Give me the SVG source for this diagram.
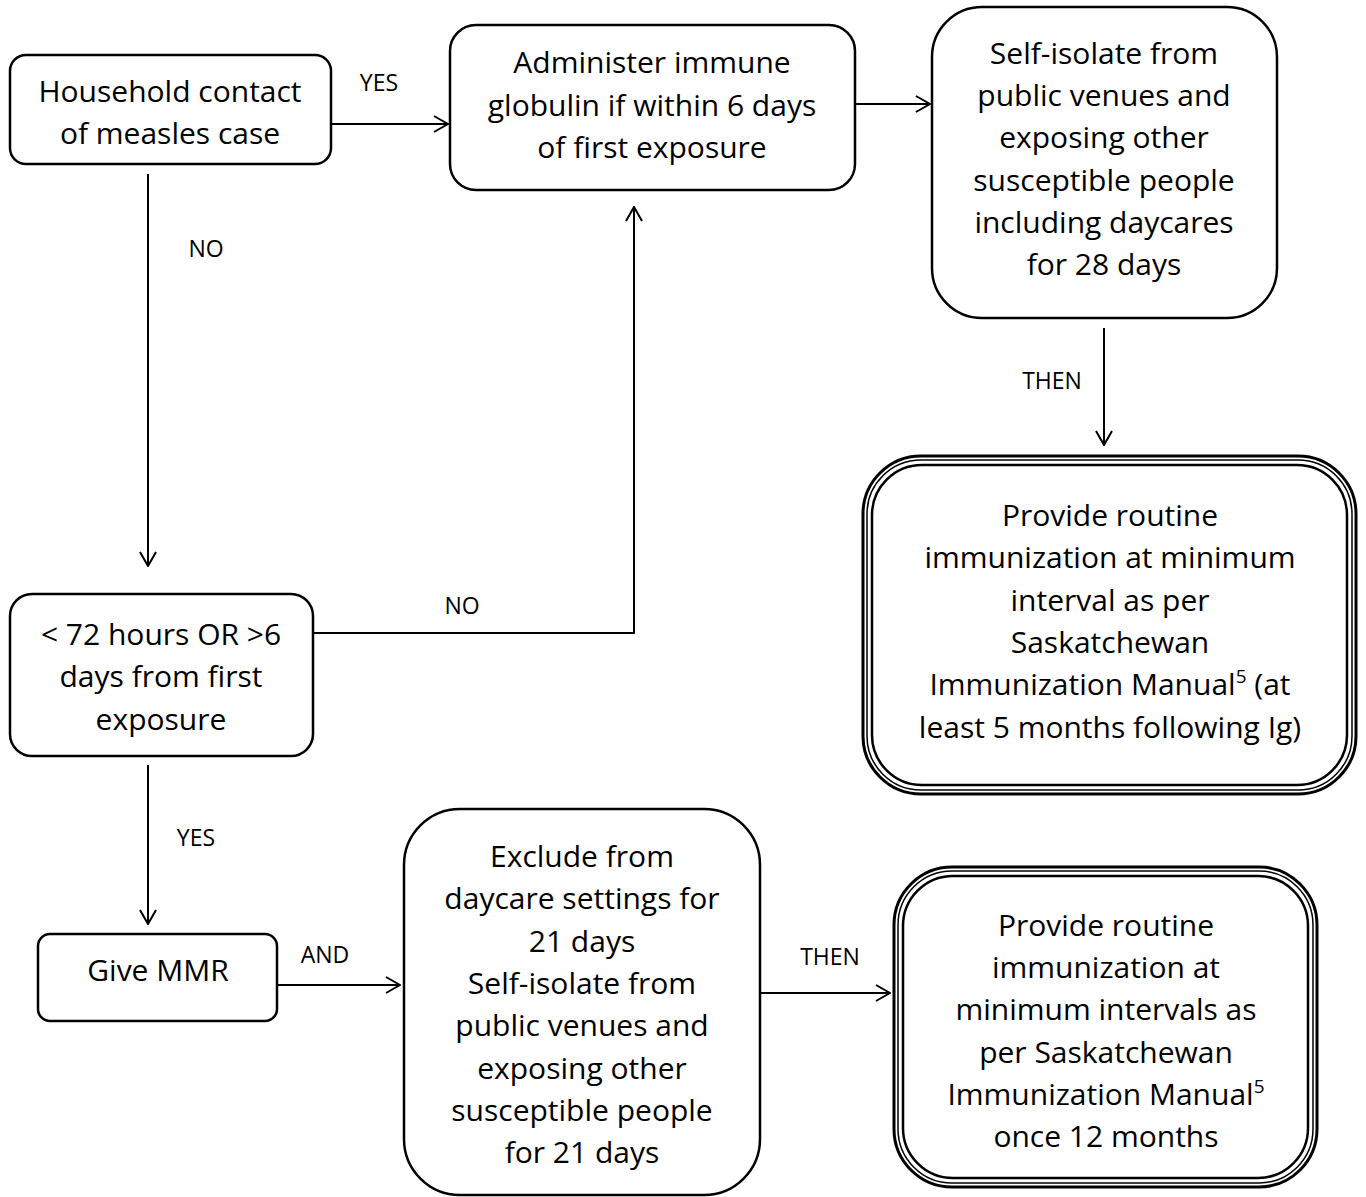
<svg xmlns="http://www.w3.org/2000/svg" width="1366" height="1197" viewBox="0 0 1366 1197">
<defs>
<style>
.box{fill:#fff;stroke:#000;stroke-width:2.5}
.t{font-family:"Open Sans",Lato,sans-serif;font-size:30px;text-anchor:middle;fill:#000}
.l{font-family:"Open Sans",Lato,sans-serif;font-size:23px;text-anchor:middle;fill:#000}
.c{fill:none;stroke:#000;stroke-width:2}
.o1{fill:#fff;stroke:#000;stroke-width:3}
.o2{fill:none;stroke:#000;stroke-width:1.5}
.o3{fill:none;stroke:#000;stroke-width:2.5}
</style>
<marker id="ah" viewBox="0 0 16 18" refX="15" refY="9" markerWidth="16" markerHeight="18" markerUnits="userSpaceOnUse" orient="auto">
<path d="M1,1 L15,9 L1,17" fill="none" stroke="#000" stroke-width="2"/>
</marker>
</defs>
<rect width="1366" height="1197" fill="#fff"/>
<g id="connectors">
<path class="c" d="M331,124 H448" marker-end="url(#ah)"/>
<path class="c" d="M148,174 V566" marker-end="url(#ah)"/>
<path class="c" d="M313,633 H634 V207" marker-end="url(#ah)"/>
<path class="c" d="M855,104 H930" marker-end="url(#ah)"/>
<path class="c" d="M1104,328 V445" marker-end="url(#ah)"/>
<path class="c" d="M148,765 V924" marker-end="url(#ah)"/>
<path class="c" d="M277,985 H400" marker-end="url(#ah)"/>
<path class="c" d="M760,993 H890" marker-end="url(#ah)"/>
<text class="l" x="379" y="91">YES</text>
<text class="l" x="206" y="257">NO</text>
<text class="l" x="462" y="614">NO</text>
<text class="l" x="1052" y="389">THEN</text>
<text class="l" x="196" y="846">YES</text>
<text class="l" x="325" y="963">AND</text>
<text class="l" x="830" y="965">THEN</text>
</g>
<g id="n1">
<rect class="box" x="10" y="55" width="321" height="109" rx="16"/>
<text class="t" x="170" y="102">Household contact</text>
<text class="t" x="170" y="144">of measles case</text>
</g>
<g id="n2">
<rect class="box" x="450" y="25" width="405" height="165" rx="26"/>
<text class="t" x="652" y="73">Administer immune</text>
<text class="t" x="652" y="116">globulin if within 6 days</text>
<text class="t" x="652" y="158">of first exposure</text>
</g>
<g id="n3">
<rect class="box" x="932" y="7" width="345" height="311" rx="50"/>
<text class="t" x="1104" y="64">Self-isolate from</text>
<text class="t" x="1104" y="106">public venues and</text>
<text class="t" x="1104" y="148">exposing other</text>
<text class="t" x="1104" y="191">susceptible people</text>
<text class="t" x="1104" y="233">including daycares</text>
<text class="t" x="1104" y="275">for 28 days</text>
</g>
<g id="n4">
<rect class="o1" x="863" y="456" width="493" height="338" rx="58"/>
<rect class="o2" x="867" y="460" width="485" height="330" rx="54"/>
<rect class="o3" x="872" y="465" width="475" height="320" rx="50"/>
<text class="t" x="1110" y="526">Provide routine</text>
<text class="t" x="1110" y="568">immunization at minimum</text>
<text class="t" x="1110" y="611">interval as per</text>
<text class="t" x="1110" y="653">Saskatchewan</text>
<text class="t" x="1110" y="695">Immunization Manual<tspan font-size="19" dy="-12">5</tspan><tspan dy="12"> (at</tspan></text>
<text class="t" x="1110" y="738">least 5 months following Ig)</text>
</g>
<g id="n5">
<rect class="box" x="10" y="594" width="303" height="162" rx="22"/>
<text class="t" x="161" y="645">&lt; 72 hours OR &gt;6</text>
<text class="t" x="161" y="687">days from first</text>
<text class="t" x="161" y="730">exposure</text>
</g>
<g id="n6">
<rect class="box" x="38" y="934" width="239" height="87" rx="12"/>
<text class="t" x="158" y="981">Give MMR</text>
</g>
<g id="n7">
<rect class="box" x="404" y="809" width="356" height="386" rx="56"/>
<text class="t" x="582" y="867">Exclude from</text>
<text class="t" x="582" y="909">daycare settings for</text>
<text class="t" x="582" y="952">21 days</text>
<text class="t" x="582" y="994">Self-isolate from</text>
<text class="t" x="582" y="1036">public venues and</text>
<text class="t" x="582" y="1079">exposing other</text>
<text class="t" x="582" y="1121">susceptible people</text>
<text class="t" x="582" y="1163">for 21 days</text>
</g>
<g id="n8">
<rect class="o1" x="894" y="867" width="423" height="320" rx="58"/>
<rect class="o2" x="898" y="871" width="415" height="312" rx="54"/>
<rect class="o3" x="903" y="876" width="405" height="302" rx="50"/>
<text class="t" x="1106" y="936">Provide routine</text>
<text class="t" x="1106" y="978">immunization at</text>
<text class="t" x="1106" y="1020">minimum intervals as</text>
<text class="t" x="1106" y="1063">per Saskatchewan</text>
<text class="t" x="1106" y="1105">Immunization Manual<tspan font-size="19" dy="-12">5</tspan></text>
<text class="t" x="1106" y="1147">once 12 months</text>
</g>
</svg>
